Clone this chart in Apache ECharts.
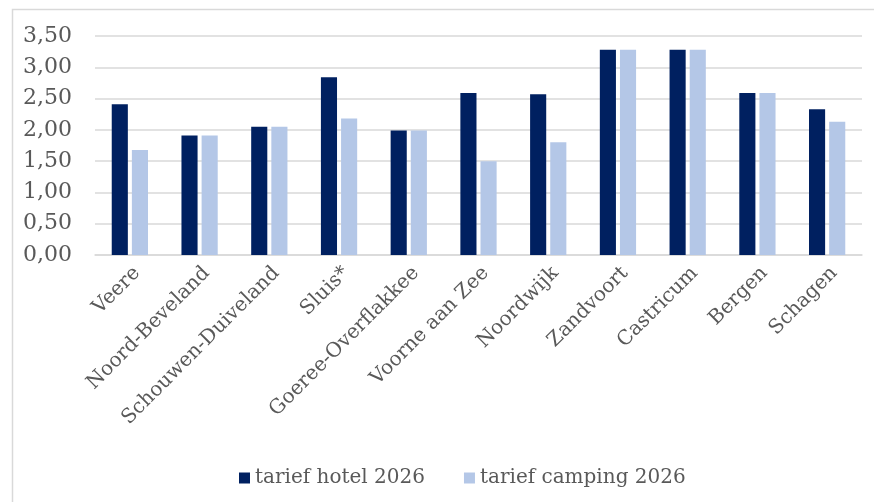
<!DOCTYPE html>
<html>
<head>
<meta charset="utf-8">
<script src="https://cdn.jsdelivr.net/npm/echarts@6/dist/echarts.min.js"></script>
<style>
  html, body { margin: 0; padding: 0; background: #fff; }
  #chart { width: 874px; height: 502px; }
</style>
</head>
<body>
<div id="chart"></div>
<script>
// gemeenten
var categories = ["Veere", "Noord-Beveland", "Schouwen-Duiveland", "Sluis*", "Goeree-Overflakkee",
  "Voorne aan Zee", "Noordwijk", "Zandvoort", "Castricum", "Bergen", "Schagen"];
var hotel2026 = [2.41, 1.91, 2.05, 2.84, 1.99, 2.59, 2.57, 3.28, 3.28, 2.59, 2.33];
var camping2026 = [1.68, 1.91, 2.05, 2.18, 1.99, 1.50, 1.80, 3.28, 3.28, 2.59, 2.13];
var seriesNames = ["tarief hotel 2026", "tarief camping 2026"];

var font = "DejaVu Serif";
var textColor = "#595959";

var myChart = echarts.init(document.getElementById("chart"));

myChart.setOption({
  animation: false,
  textStyle: { fontFamily: font },
  graphic: [{
    type: "rect",
    shape: { x: 12.5, y: 9.5, width: 900, height: 520 },
    style: { fill: "none", stroke: "#d9d9d9", lineWidth: 1.5 },
    silent: true
  }],
  legend: {
    left: 234,
    top: 463,
    icon: "rect",
    itemWidth: 11,
    itemHeight: 11,
    itemGap: 39,
    textStyle: { color: textColor, fontSize: 20, fontFamily: font },
    data: seriesNames
  },
  grid: {
    left: 95,
    right: 12,
    top: 36,
    bottom: 247,
    containLabel: false
  },
  xAxis: {
    type: "category",
    data: categories,
    axisTick: { show: false },
    axisLine: { lineStyle: { color: "#d9d9d9", width: 1.5 } },
    axisLabel: {
      interval: 0,
      rotate: 45,
      margin: 8,
      verticalAlign: "top",
      color: textColor,
      fontSize: 20,
      fontFamily: font
    }
  },
  yAxis: {
    type: "value",
    min: 0,
    max: 3.5,
    interval: 0.5,
    axisLine: { show: false },
    axisTick: { show: false },
    splitLine: { lineStyle: { color: "#d9d9d9", width: 1.5 } },
    axisLabel: {
      margin: 23,
      color: textColor,
      fontSize: 22,
      fontFamily: font,
      formatter: function (v) { return v.toFixed(2).replace(".", ","); }
    }
  },
  series: [{
    name: seriesNames[0],
    type: "bar",
    data: hotel2026,
    barGap: "25%",
    barCategoryGap: "48%",
    itemStyle: { color: "#002060" }
  }, {
    name: seriesNames[1],
    type: "bar",
    data: camping2026,
    itemStyle: { color: "#b4c7e7" }
  }]
});
</script>
</body>
</html>
